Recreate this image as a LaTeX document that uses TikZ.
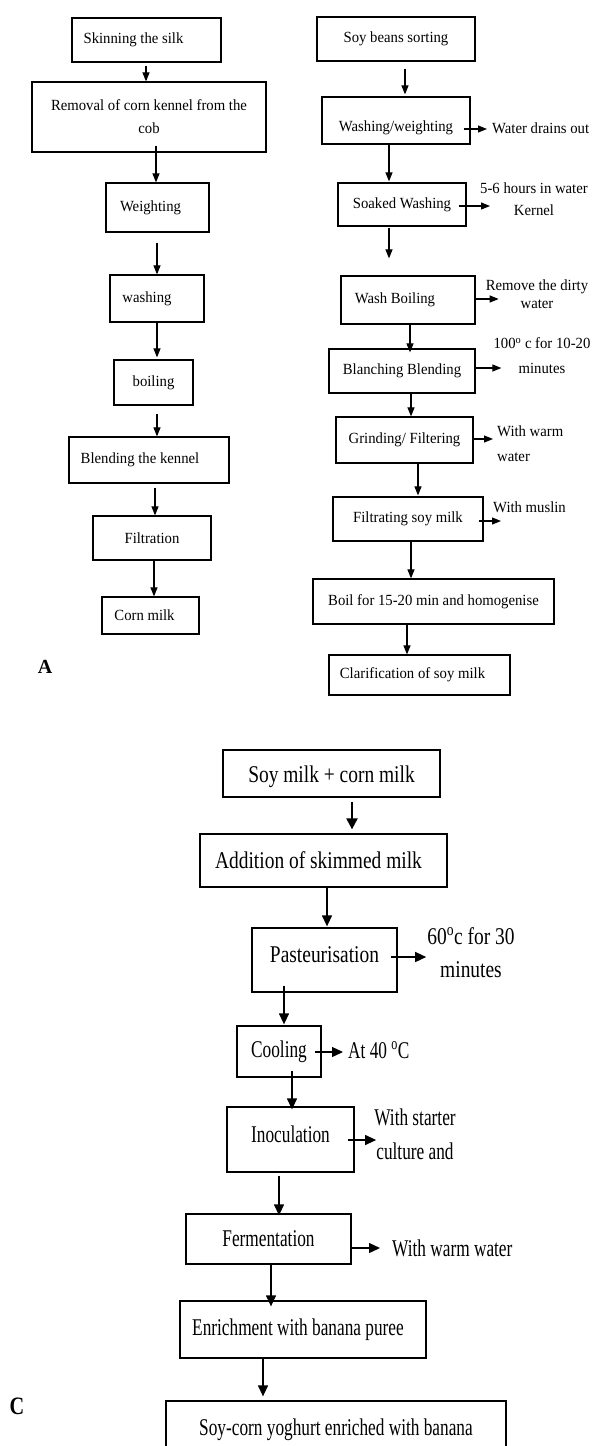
\documentclass[tikz,border=0pt]{standalone}
\usepackage{fontspec}
\setmainfont{Liberation Serif}
\newfontfamily\topf[FakeStretch=0.95]{Liberation Serif}
\newfontfamily\cfa[FakeStretch=0.81]{Liberation Serif}
\newfontfamily\cfb[FakeStretch=0.72]{Liberation Serif}
\usetikzlibrary{arrows.meta}
\newcommand\dropt[2]{\raisebox{-#1}[\height][\depth]{#2}}
\newcommand\dn[6]{\draw[#1,shorten <=#5pt,shorten >=#6pt] (#2.south -| #4,0) -- (#3.north -| #4,0);}
\newcommand\sd[6]{\draw[#1,shorten <=#5pt,shorten >=#6pt] (#2.east |- 0,#4) -- (#3.west |- 0,#4);}
\tikzset{
  tbox/.style={draw, line width=1.2pt, inner sep=0pt, align=center,
    font=\topf\fontsize{15.5pt}{23pt}\selectfont},
  tlab/.style={inner sep=0pt, font=\topf\fontsize{15.5pt}{22pt}\selectfont},
  cboxa/.style={draw, line width=1.3pt, inner sep=0pt, align=center,
    font=\cfa\fontsize{24pt}{30pt}\selectfont},
  cboxb/.style={draw, line width=1.3pt, inner sep=0pt, align=center,
    font=\cfb\fontsize{24pt}{30pt}\selectfont},
  clab/.style={inner sep=0pt, font=\cfb\fontsize{24pt}{34pt}\selectfont},
  arrT/.style={line width=1.1pt, -{Triangle[length=9pt,width=7pt]}},
  arrC/.style={line width=1.3pt, -{Triangle[length=11pt,width=10pt]}},
  arrCt/.style={line width=2.2pt, -{Triangle[length=11pt,width=11pt]}},
}
\begin{document}
\begin{tikzpicture}[x=1pt,y=-1pt]
\useasboundingbox (0,0) rectangle (592,1446);
\clip (0,0) rectangle (592,1446);
% ---------- left column (corn) ----------
\node[tbox, minimum width=149pt, minimum height=44pt] (L1) at (146.5,40) {Skinning the silk\kern26pt};
\node[tbox, minimum width=234pt, minimum height=70pt] (L2) at (149,117) {Removal of corn kennel from the\\cob};
\node[tbox, minimum width=103pt, minimum height=49pt] (L3) at (157.5,207.5) {Weighting\kern14pt};
\node[tbox, minimum width=94pt, minimum height=47pt] (L4) at (157,298.5) {washing\kern20pt};
\node[tbox, minimum width=79pt, minimum height=45pt] (L5) at (153.5,382.5) {boiling};
\node[tbox, minimum width=160pt, minimum height=46pt] (L6) at (149,460) {Blending the kennel\kern18pt};
\node[tbox, minimum width=118pt, minimum height=44pt] (L7) at (152,538) {Filtration};
\node[tbox, minimum width=97pt, minimum height=37pt] (L8) at (150.5,615.5) {Corn milk\kern12pt};
\dn{arrT}{L1}{L2}{146}{3}{0}
\dn{arrT}{L2}{L3}{156}{-7}{0}
\dn{arrT}{L3}{L4}{157}{10}{0}
\dn{arrT}{L4}{L5}{157}{0}{2}
\dn{arrT}{L5}{L6}{157}{8}{0}
\dn{arrT}{L6}{L7}{155}{4}{0}
\dn{arrT}{L7}{L8}{154}{0}{0}
\node[font=\bfseries\fontsize{20pt}{24pt}\selectfont, inner sep=0pt] (lblA) at (45,667) {A};
% ---------- right column (soy) ----------
\node[tbox, minimum width=158pt, minimum height=44pt] (R1) at (396,39) {Soy beans sorting};
\node[tbox, minimum width=148pt, minimum height=47pt] (R2) at (396,120.5) {\dropt{7pt}{Washing/weighting}};
\node[tbox, minimum width=128pt, minimum height=43pt] (R3) at (402,204.5) {Soaked Washing};
\node[tbox, minimum width=134pt, minimum height=48pt] (R4) at (408,300) {Wash Boiling\kern26pt};
\node[tbox, minimum width=146pt, minimum height=44pt] (R5) at (402,371) {Blanching Blending};
\node[tbox, minimum width=137pt, minimum height=46pt] (R6) at (404.5,440) {Grinding/ Filtering};
\node[tbox, minimum width=150pt, minimum height=44pt] (R7) at (408,519) {Filtrating soy milk};
\node[tbox, minimum width=241pt, minimum height=45pt] (R8) at (433.5,601.5) {Boil for 15-20 min and homogenise};
\node[tbox, minimum width=181pt, minimum height=40pt] (R9) at (419.5,675) {Clarification of soy milk\kern14pt};
\dn{arrT}{R1}{R2}{405}{7}{2}
\dn{arrT}{R2}{R3}{389}{0}{1}
\dn{arrT}{R3}{R4}{389}{1}{17}
\dn{arrT}{R4}{R5}{410}{0}{-4}
\dn{arrT}{R5}{R6}{411}{0}{0}
\dn{arrT}{R6}{R7}{418}{0}{1}
\dn{arrT}{R7}{R8}{411}{0}{0}
\dn{arrT}{R8}{R9}{407}{0}{0}
% side labels
\node[tlab, anchor=west] (W2) at (492,128) {Water drains out};
\node[tlab, align=center] (W3) at (534,199) {5-6 hours in water\\Kernel};
\node[tlab, align=center, font=\topf\fontsize{15.5pt}{18pt}\selectfont] (W4) at (537,294) {Remove the dirty\\water};
\node[tlab, align=center, font=\topf\fontsize{15.5pt}{25pt}\selectfont] (W5) at (542,356) {100\textsuperscript{o} c for 10-20\\minutes};
\node[tlab, align=left, anchor=west, font=\topf\fontsize{15.5pt}{25pt}\selectfont] (W6) at (497,444) {With warm\\water};
\node[tlab, anchor=west] (W7) at (493,507) {With muslin};
\sd{arrT}{R2}{W2}{129}{-7}{5}
\sd{arrT}{R3}{W3}{206}{-8}{-10}
\sd{arrT}{R4}{W4}{299}{0}{-13}
\sd{arrT}{R5}{W5}{368}{0}{-8}
\sd{arrT}{R6}{W6}{439}{0}{4}
\sd{arrT}{R7}{W7}{521}{-5}{-8}
% ---------- C: yoghurt ----------
\node[cboxa, minimum width=217pt, minimum height=47pt] (C1) at (331.5,773.5) {\dropt{3pt}{Soy milk + corn milk}};
\node[cboxa, minimum width=247pt, minimum height=53pt] (C2) at (323.5,860.5) {Addition of skimmed milk\kern10pt};
\node[cboxa, minimum width=145pt, minimum height=64pt] (C3) at (324.5,960) {\dropt{-5pt}{Pasteurisation}};
\node[cboxb, minimum width=84pt, minimum height=51pt] (C4) at (279,1051.5) {Cooling};
\node[cboxb, minimum width=127pt, minimum height=65pt] (C5) at (290.5,1139.5) {\dropt{-5pt}{Inoculation}};
\node[cboxb, minimum width=165pt, minimum height=50pt] (C6) at (268.5,1239) {Fermentation};
\node[cboxb, minimum width=246pt, minimum height=57pt] (C7) at (303,1329.5) {Enrichment with banana puree\kern10pt};
\node[cboxb, minimum width=340pt, minimum height=57pt] (C8) at (336,1429.5) {Soy-corn yoghurt enriched with banana};
\dn{arrCt}{C1}{C2}{352}{4}{4}
\dn{arrC}{C2}{C3}{327}{0}{1}
\dn{arrC}{C3}{C4}{284}{-7}{1}
\dn{arrC}{C4}{C5}{292}{-7}{-3}
\dn{arrC}{C5}{C6}{279}{3}{-2}
\dn{arrC}{C6}{C7}{271}{0}{-6}
\dn{arrC}{C7}{C8}{263}{0}{4}
\node[clab, align=center, font=\cfa\fontsize{24pt}{33pt}\selectfont] (P1) at (471,953) {60\textsuperscript{o}c for 30\\minutes};
\node[clab, anchor=west] (P2) at (348,1050) {At 40 \textsuperscript{o}C};
\node[clab, align=center] (P3) at (415,1134) {With starter\\culture and};
\node[clab, anchor=west] (P4) at (392,1248) {With warm water};
\sd{arrC}{C3}{P1}{957}{-7}{1}
\sd{arrC}{C4}{P2}{1052}{-7}{5}
\sd{arrC}{C5}{P3}{1140}{-7}{-2}
\sd{arrC}{C6}{P4}{1248}{0}{12}
\node[font=\cfa\bfseries\fontsize{25pt}{28pt}\selectfont, inner sep=0pt] (lblC) at (17,1406) {C};
\end{tikzpicture}
\end{document}
